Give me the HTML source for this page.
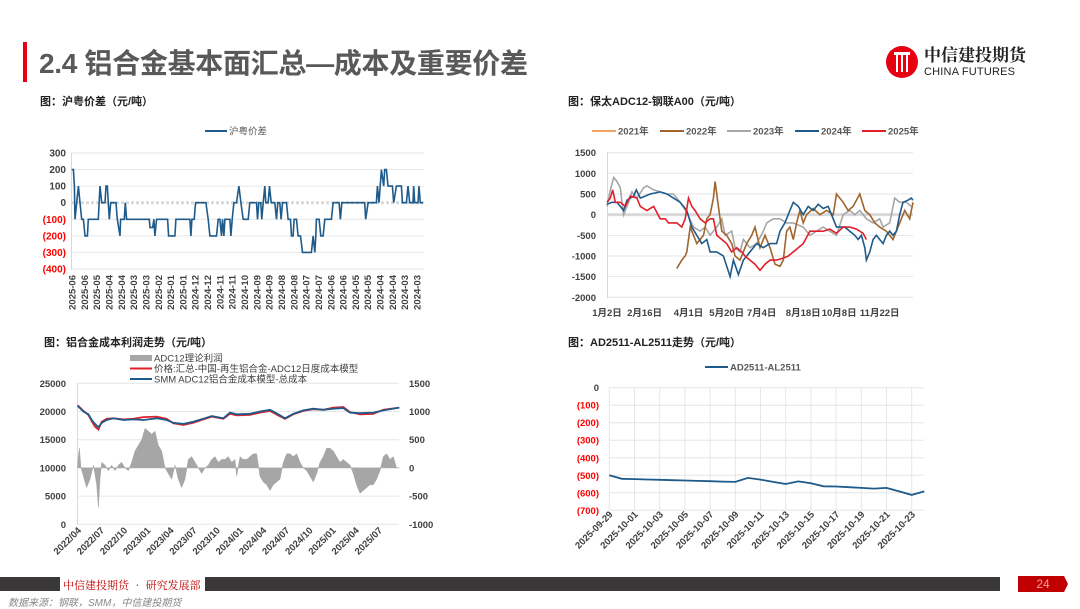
<!DOCTYPE html>
<html><head><meta charset="utf-8">
<style>
body{margin:0;width:1080px;height:608px;background:#fff;overflow:hidden;font-family:"Liberation Sans","Noto Sans CJK SC",sans-serif;position:relative}
.abs{position:absolute}
svg text{font-family:"Liberation Sans","Noto Sans CJK SC",sans-serif}
</style></head><body>
<div class="abs" style="left:23px;top:42px;width:4px;height:40px;background:#e60012"></div>
<div class="abs" style="left:39px;top:42px;font-size:28px;font-weight:bold;color:#595959;letter-spacing:-0.3px">2.4 铝合金基本面汇总—成本及重要价差</div>
<div class="abs" style="left:885px;top:44px;width:160px;height:40px">
 <svg width="34" height="36" style="position:absolute;left:0;top:0"><circle cx="17" cy="18" r="16" fill="#e60012"/><rect x="9" y="8" width="16" height="3" fill="#fff"/><rect x="11" y="11" width="2" height="17" fill="#fff"/><rect x="16" y="11" width="2" height="17" fill="#fff"/><rect x="21" y="11" width="2" height="17" fill="#fff"/></svg>
 <div style="position:absolute;left:39px;top:0px;font-size:17px;line-height:20px;font-weight:bold;color:#222;font-family:'Noto Serif CJK SC',serif">中信建投期货</div>
 <div style="position:absolute;left:39px;top:22px;font-size:11px;line-height:12px;color:#222;letter-spacing:0.2px">CHINA FUTURES</div>
</div>
<div class="abs" style="left:40px;top:93px;font-size:11px;font-weight:bold;color:#222">图：沪粤价差（元/吨）</div>
<div class="abs" style="left:568px;top:93px;font-size:11px;font-weight:bold;color:#222">图：保太ADC12-钢联A00（元/吨）</div>
<div class="abs" style="left:44px;top:334px;font-size:11px;font-weight:bold;color:#222">图：铝合金成本利润走势（元/吨）</div>
<div class="abs" style="left:568px;top:334px;font-size:11px;font-weight:bold;color:#222">图：AD2511-AL2511走势（元/吨）</div>
<svg id="c" class="abs" style="left:0;top:0" width="1080" height="608"></svg>
<div class="abs" style="left:0;top:577px;width:60px;height:14px;background:#3a3838"></div>
<div class="abs" style="left:63px;top:577px;font-size:11px;color:#c00000;font-family:'Noto Serif CJK SC',serif">中信建投期货 • 研究发展部</div>
<div class="abs" style="left:205px;top:577px;width:795px;height:14px;background:#3a3838"></div>
<div class="abs" style="left:1018px;top:576px;width:50px;height:16px;background:#c00000;color:#f0a0a0;font-size:12px;line-height:16px;text-align:center;clip-path:polygon(0 0,92% 0,100% 50%,92% 100%,0 100%)">24</div>
<div class="abs" style="left:8px;top:594px;font-size:10px;color:#888;font-style:italic">数据来源：钢联，SMM，中信建投期货</div>
<script>
// ---------- Chart 1 data ----------
const c1Labels=["2025-06","2025-06","2025-05","2025-04","2025-04","2025-03","2025-03","2025-02","2025-01","2025-01","2024-12","2024-12","2024-11","2024-11","2024-10","2024-09","2024-09","2024-08","2024-08","2024-07","2024-07","2024-06","2024-06","2024-05","2024-05","2024-04","2024-04","2024-03","2024-03"];
const c1Ticks=[300,200,100,0,-100,-200,-300,-400];
const c1Days=[125,130,133,135,140,145,150,155,160,165,172,175,205,210,215,225,228,232,238,242,258,262,270,272,283,286,290,358,360,368,372,375,380,413,416,435,438,480,483,486,493,497,528,535,540,560,565,570,575,578,582,585,600,603,607,612,620,627,633,640,655,660,680,683,687,693,696,700,705,708,715,719,724,735,740,744,750,754,758,770,775,782,785,790,793,800,805,812,818,845,850,855,858,860,868,873,880,885,905,910,928,932,936,1005,1008,1015,1040,1043,1048,1055,1062,1065,1070,1075,1088,1092,1100,1115,1118,1130,1135,1140,1150,1152,1155,1165,1168,1172,1180];
const c1Spread=[200,200,100,-100,0,100,0,-100,-100,-200,-200,-100,-100,100,0,0,100,100,-100,0,0,-100,-200,-100,-100,0,-100,-100,-150,-150,-100,-200,-100,-100,-200,-200,-100,-100,-200,-100,-100,0,0,-100,-200,-200,-100,-100,-200,-100,-200,-100,-100,-200,-100,0,0,100,0,-100,-100,0,0,-100,0,0,-100,0,100,0,0,100,0,0,-100,0,0,-100,0,0,-100,-100,-200,-200,-100,-100,-200,-200,-300,-300,-200,-300,-200,-100,-100,-200,-200,-100,-100,0,0,-100,0,0,-100,0,0,100,0,200,100,200,200,100,100,0,100,100,0,0,100,0,0,100,0,0,100,0,0];
// ---------- Chart 2 data ----------
const c2Labels=["1月2日","2月16日","4月1日","5月20日","7月4日","8月18日","10月8日","11月22日"];
const c2LabelDays=[0,113,245,360,465,590,698,820];
const c2Ticks=[1500,1000,500,0,-500,-1000,-1500,-2000];
const c2Years=["2021年","2022年","2023年","2024年","2025年"];
const d2024=[0,15,30,45,50,60,80,88,100,130,160,180,200,220,240,255,270,285,300,310,330,350,370,380,395,410,430,450,470,490,510,520,535,550,560,575,590,605,620,635,650,665,680,690,715,730,745,755,765,775,780,790,800,810,820,830,840,850,860,870,880,890,905,915,920];
const v2024=[250,300,300,150,100,350,450,600,400,500,550,500,400,300,100,-300,-500,-700,-600,-900,-900,-1000,-1500,-1100,-1450,-1100,-900,-700,-800,-700,-700,-400,-200,100,300,200,0,200,100,250,150,200,-100,-300,-300,-400,-500,-600,-500,-800,-1100,-900,-600,-500,-600,-700,-500,-400,-500,-400,0,300,350,400,350];
const d2023=[0,10,20,30,40,45,50,65,75,90,110,120,140,160,180,200,220,240,260,280,295,310,330,345,355,375,385,400,410,430,450,470,480,500,520,540,560,590,610,630,650,670,690,710,730,745,760,780,800,820,830,850,865,880,900,915];
const v2023=[200,600,900,800,650,300,0,300,550,400,650,700,600,550,500,500,300,50,-300,-400,-300,-500,-300,-100,-500,-400,-800,-900,-600,-800,-700,-400,-200,-100,-100,-200,-200,-300,-500,-400,-300,-400,-500,0,100,0,100,-100,-200,-100,-300,-200,400,300,300,200];
const d2022=[210,225,235,240,250,260,270,280,290,300,310,320,325,335,345,360,375,385,400,420,435,445,460,475,490,505,520,530,540,550,560,570,580,590,600,620,640,660,680,690,700,710,725,740,760,775,790,805,820,840,860,880,895,910,920];
const v2022=[-1300,-1100,-1000,-900,-300,-500,-700,-600,-500,-100,0,400,800,200,-400,-500,-700,-1000,-1100,-700,-500,-300,-800,-500,-800,-1200,-1250,-1100,-400,-300,-600,-200,100,-200,0,150,0,100,0,500,400,300,100,200,500,100,0,-200,-300,-400,-600,-200,100,-100,300];
const d2025=[0,10,17,25,40,55,70,90,100,120,140,160,175,185,210,225,235,245,255,265,280,295,310,320,330,345,360,375,390,405,415,430,445,460,475,490,510,530,545,560,575,590,610,630,650,670,690,710,730,750,770,780];
const v2025=[300,400,600,300,300,200,450,400,200,100,200,-100,-100,-200,-200,-300,-100,400,200,100,-100,-200,-100,-100,-500,-600,-700,-900,-800,-900,-1000,-1100,-1200,-1350,-1200,-1100,-1100,-1050,-1000,-900,-800,-700,-400,-400,-400,-350,-450,-300,-300,-350,-450,-600];
// ---------- Chart 3 data ----------
const c3Labels=["2022/04","2022/07","2022/10","2023/01","2023/04","2023/07","2023/10","2024/01","2024/04","2024/07","2024/10","2025/01","2025/04","2025/07"];
const c3LeftTicks=[25000,20000,15000,10000,5000,0];
const c3RightTicks=[1500,1000,500,0,-500,-1000];
const c3ProfitDays=[0,5,10,17,27,37,47,57,62,67,72,82,92,102,112,122,132,142,152,162,172,182,192,202,212,222,232,242,252,262,272,282,292,302,312,322,332,342,352,362,372,382,392,402,412,422,432,442,452,462,472,477,487,497,507,517,527,537,547,557,567,577,587,597,607,617,627,637,647,657,667,677,687,697,707,717,727,737,747,757,767,777,787,797,807,817,827,837,847,857,867,877,887,897,907,917,927,937,947,957,965];
const c3Profit=[100,350,0,-150,-350,-200,50,-300,-700,-200,100,50,-50,50,-50,50,100,0,-50,100,300,400,500,700,650,600,650,400,300,0,-100,-200,50,-200,-350,-200,150,200,100,0,-100,0,50,150,200,100,150,150,200,100,150,-150,200,150,150,200,250,250,-150,-250,-300,-400,-300,-250,-200,100,250,250,200,250,100,0,-50,-150,-250,-100,100,200,350,350,300,200,100,150,100,50,-100,-300,-450,-400,-350,-300,-300,-200,-50,200,250,150,200,0,0];
const c3CostDays=[0,17,32,42,52,62,72,87,107,137,167,197,237,267,287,317,347,377,402,437,457,477,517,547,577,602,622,647,677,707,737,767,797,817,847,887,917,965];
const c3Smm=[21000,20000,19500,18500,17800,17200,18000,18500,18800,18500,18600,18500,18800,18500,18000,17800,18200,18700,19200,18800,19800,19500,19600,20000,20300,19500,18800,19600,20200,20500,20300,20500,20600,19800,19700,19800,20200,20700];
const c3Red=[21100,20100,19400,18300,17300,16800,18200,18700,18800,18600,18700,19000,19100,18700,17900,17600,18000,18600,19100,18700,19600,19300,19400,19800,20100,19300,18700,19500,20100,20400,20300,20700,20800,19900,19500,19600,20300,20700];
// ---------- Chart 4 data ----------
const c4Labels=["2025-09-29","2025-10-01","2025-10-03","2025-10-05","2025-10-07","2025-10-09","2025-10-11","2025-10-13","2025-10-15","2025-10-17","2025-10-19","2025-10-21","2025-10-23"];
const c4Ticks=[0,-100,-200,-300,-400,-500,-600,-700];
const c4Values=[-500,-520,-522,-524,-526,-528,-530,-532,-534,-536,-538,-515,-525,-538,-550,-535,-545,-563,-564,-568,-572,-576,-572,-592,-612,-592];

const NS="http://www.w3.org/2000/svg";const svg=document.getElementById('c');
function mk(t,a,txt){const e=document.createElementNS(NS,t);for(const k in a)e.setAttribute(k,a[k]);if(txt!==undefined)e.textContent=txt;svg.appendChild(e);return e;}
function lin(d0,d1,r0,r1){return v=>r0+(v-d0)*(r1-r0)/(d1-d0);}
function fmt(v){return v<0?"("+(-v)+")":String(v);}
function path(xs,ys,fx,fy){return xs.map((x,i)=>(i?"L":"M")+fx(x).toFixed(1)+","+fy(ys[i]).toFixed(1)).join("");}

// ===== Chart 1 =====
{const x=lin(125,1180,71.7,423),y=lin(300,-400,153,269);
c1Ticks.forEach(t=>{if(t!==0){const g=mk('line',{x1:71,x2:424,y1:y(t),y2:y(t),stroke:'#e6e6e6','stroke-width':1});

}
const l=mk('text',{x:66,y:y(t)+3.5,'text-anchor':'end','font-size':10,'font-weight':'bold',fill:t<0?'#ff0000':'#404040'},fmt(t));

});
const z=mk('line',{x1:71,x2:424,y1:y(0),y2:y(0),stroke:'#d9d9d9','stroke-width':3,'stroke-dasharray':'3,2'});


const ax=mk('line',{x1:71.5,x2:71.5,y1:153,y2:270,stroke:'#d9d9d9'});


c1Labels.forEach((s,i)=>{const px=72+i*(345/28);const t=mk('text',{x:0,y:0,transform:`translate(${px+3.5},275) rotate(-90)`,'text-anchor':'end','font-size':9.5,fill:'#404040','font-weight':'bold'},s);

});
const p=mk('path',{d:path(c1Days,c1Spread,x,y),fill:'none',stroke:'#1f5b8a','stroke-width':1.6});


const lg=mk('line',{x1:205,x2:227,y1:131,y2:131,stroke:'#1f5b8a','stroke-width':2});


const lt=mk('text',{x:229,y:134.5,'font-size':9.5,fill:'#595959'},'沪粤价差');

}

// ===== Chart 2 =====
{const x=lin(0,920,607,913),y=lin(1500,-2000,152.7,297.3);
c2Ticks.forEach(t=>{if(t!==0){const g=mk('line',{x1:607,x2:913,y1:y(t),y2:y(t),stroke:'#e6e6e6'});

}
const l=mk('text',{x:596,y:y(t)+3.5,'text-anchor':'end','font-size':9.5,'font-weight':'bold',fill:'#404040'},t);

});
const z=mk('line',{x1:607,x2:913,y1:y(0),y2:y(0),stroke:'#d9d9d9','stroke-width':3});


const ax=mk('line',{x1:607.5,x2:607.5,y1:152,y2:298,stroke:'#d9d9d9'});


c2Labels.forEach((s,i)=>{const t=mk('text',{x:x(c2LabelDays[i]),y:316,'text-anchor':'middle','font-size':9.5,'font-weight':'bold',fill:'#404040'},s);

});
const cols=['#f4a460','#a0652d','#a6a6a6','#1f5b8a','#e0202a'];
const sets=[[d2023,v2023,2],[d2022,v2022,1],[d2024,v2024,3],[d2025,v2025,4]];
sets.forEach(s=>{const p=mk('path',{d:path(s[0],s[1],x,y),fill:'none',stroke:cols[s[2]],'stroke-width':1.6});

});
const lx=[592,660,727,795,862];
c2Years.forEach((s,i)=>{const l=mk('line',{x1:lx[i],x2:lx[i]+24,y1:131,y2:131,stroke:cols[i],'stroke-width':2});


const t=mk('text',{x:lx[i]+26,y:134.5,'font-size':9.5,'font-weight':'bold',fill:'#595959'},s);

});}

// ===== Chart 3 =====
{const x=lin(0,965,77.7,399.3),y=lin(25000,0,383.3,524.3),yr=lin(1500,-1000,383.3,524.3);
c3LeftTicks.forEach((t,i)=>{const g=mk('line',{x1:77,x2:399,y1:y(t),y2:y(t),stroke:'#e6e6e6'});


const l=mk('text',{x:66,y:y(t)+3.5,'text-anchor':'end','font-size':9.5,'font-weight':'bold',fill:'#404040'},t);


const r=mk('text',{x:409,y:yr(c3RightTicks[i])+3.5,'font-size':9.5,'font-weight':'bold',fill:'#404040'},c3RightTicks[i]);

});
const ax=mk('line',{x1:77.5,x2:77.5,y1:383,y2:525,stroke:'#d9d9d9'});


let d="M"+x(c3ProfitDays[0])+","+yr(0);c3ProfitDays.forEach((dd,i)=>{d+="L"+x(dd).toFixed(1)+","+yr(c3Profit[i]).toFixed(1);});d+="L"+x(c3ProfitDays[c3ProfitDays.length-1])+","+yr(0)+"Z";
const a=mk('path',{d:d,fill:'#a6a6a6',stroke:'#a6a6a6','stroke-width':0.5});


const r=mk('path',{d:path(c3CostDays,c3Red,x,y),fill:'none',stroke:'#e0202a','stroke-width':1.8});


const b=mk('path',{d:path(c3CostDays,c3Smm,x,y),fill:'none',stroke:'#1f5b8a','stroke-width':1.8});


c3Labels.forEach((s,i)=>{const px=x(i*69.5);const t=mk('text',{x:0,y:0,transform:`translate(${px+4},531) rotate(-45)`,'text-anchor':'end','font-size':9.5,'font-weight':'bold',fill:'#404040'},s);

});
const leg=[['ADC12理论利润','#a6a6a6',6],['价格:汇总-中国-再生铝合金-ADC12日度成本模型','#e0202a',2],['SMM ADC12铝合金成本模型-总成本','#1f5b8a',2]];
leg.forEach((L,i)=>{const yy=358+i*10.5;const s=mk('rect',{x:130,y:yy-L[2]/2,width:22,height:L[2],fill:L[1]});


const t=mk('text',{x:154,y:yy+3.5,'font-size':9.5,fill:'#404040'},L[0]);

});}

// ===== Chart 4 =====
{const x=lin(0,25,609.3,924.3),y=lin(0,-700,387.7,510.3);
c4Ticks.forEach(t=>{const g=mk('line',{x1:609,x2:924,y1:y(t),y2:y(t),stroke:'#e6e6e6'});


const l=mk('text',{x:599,y:y(t)+3.5,'text-anchor':'end','font-size':9.5,'font-weight':'bold',fill:t<0?'#ff0000':'#404040'},fmt(t));

});
c4Labels.forEach((s,i)=>{const px=x(i*2);const g=mk('line',{x1:px,x2:px,y1:387.7,y2:510.3,stroke:'#e6e6e6'});


const t=mk('text',{x:0,y:0,transform:`translate(${px+4},515) rotate(-45)`,'text-anchor':'end','font-size':9.5,'font-weight':'bold',fill:'#404040'},s);

});
const p=mk('path',{d:path(c4Values.map((v,i)=>i),c4Values,x,y),fill:'none',stroke:'#1f5b8a','stroke-width':1.8});


const lg=mk('line',{x1:705,x2:728,y1:367,y2:367,stroke:'#1f5b8a','stroke-width':2});


const lt=mk('text',{x:730,y:370.5,'font-size':9.5,'font-weight':'bold',fill:'#595959'},'AD2511-AL2511');

}
</script>
</body></html>
